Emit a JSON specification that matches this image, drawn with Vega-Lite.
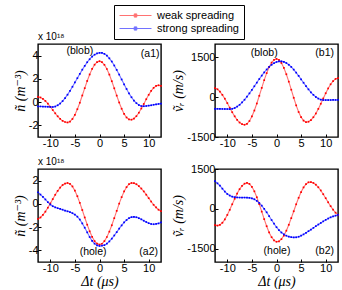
{
"$schema":"https://vega.github.io/schema/vega-lite/v6.json",
"background":"white",
"padding":{"left":12,"top":4,"right":2,"bottom":0},
"bounds":"flush",
"columns":2,
"spacing":{"row":32,"column":54},
"resolve":{"scale":{"color":"shared"}},
"config":{
 "locale":{"number":{"decimal":".","thousands":",","grouping":[3],"currency":["$",""],"minus":"-"}},
 "view":{"stroke":"black","strokeWidth":1.4},
 "axis":{"grid":false,"domain":false,"labelFont":"Liberation Sans","labelFontSize":11,"labelColor":"black","labelOverlap":false,"labelFlush":false,"tickColor":"black","tickSize":-3,"labelPadding":3,"titlePadding":1,"titleFont":"Liberation Serif, DejaVu Serif","titleFontStyle":"italic","titleFontWeight":"normal","titleFontSize":14,"titleColor":"black"},
 "title":{"font":"Liberation Sans","fontSize":10,"fontWeight":"normal","anchor":"start","offset":2,"color":"black","frame":"group"},
 "text":{"font":"Liberation Sans","fontSize":10.5,"color":"black"}
},
"datasets":{
"d":[
{"t":-12.5,"s":"weak spreading","a1":0.45,"b1":342,"a2":-1.30,"b2":-610},
{"t":-12,"s":"weak spreading","a1":0.40,"b1":296,"a2":-1.17,"b2":-630},
{"t":-11.5,"s":"weak spreading","a1":0.28,"b1":210,"a2":-0.95,"b2":-603},
{"t":-11,"s":"weak spreading","a1":0.10,"b1":87,"a2":-0.67,"b2":-523},
{"t":-10.5,"s":"weak spreading","a1":-0.13,"b1":-59,"a2":-0.33,"b2":-396},
{"t":-10,"s":"weak spreading","a1":-0.40,"b1":-224,"a2":0.04,"b2":-229},
{"t":-9.5,"s":"weak spreading","a1":-0.68,"b1":-398,"a2":0.41,"b2":-36},
{"t":-9,"s":"weak spreading","a1":-0.96,"b1":-567,"a2":0.78,"b2":172},
{"t":-8.5,"s":"weak spreading","a1":-1.22,"b1":-722,"a2":1.12,"b2":381},
{"t":-8,"s":"weak spreading","a1":-1.44,"b1":-854,"a2":1.40,"b2":574},
{"t":-7.5,"s":"weak spreading","a1":-1.61,"b1":-955,"a2":1.62,"b2":741},
{"t":-7,"s":"weak spreading","a1":-1.71,"b1":-1019,"a2":1.75,"b2":868},
{"t":-6.5,"s":"weak spreading","a1":-1.75,"b1":-1040,"a2":1.80,"b2":948},
{"t":-6,"s":"weak spreading","a1":-1.67,"b1":-1004,"a2":1.72,"b2":975},
{"t":-5.5,"s":"weak spreading","a1":-1.45,"b1":-899,"a2":1.50,"b2":939},
{"t":-5,"s":"weak spreading","a1":-1.09,"b1":-728,"a2":1.13,"b2":831},
{"t":-4.5,"s":"weak spreading","a1":-0.61,"b1":-504,"a2":0.66,"b2":660},
{"t":-4,"s":"weak spreading","a1":-0.05,"b1":-239,"a2":0.09,"b2":437},
{"t":-3.5,"s":"weak spreading","a1":0.57,"b1":51,"a2":-0.53,"b2":178},
{"t":-3,"s":"weak spreading","a1":1.20,"b1":349,"a2":-1.17,"b2":-104},
{"t":-2.5,"s":"weak spreading","a1":1.82,"b1":639,"a2":-1.79,"b2":-387},
{"t":-2,"s":"weak spreading","a1":2.38,"b1":904,"a2":-2.36,"b2":-653},
{"t":-1.5,"s":"weak spreading","a1":2.86,"b1":1128,"a2":-2.83,"b2":-886},
{"t":-1,"s":"weak spreading","a1":3.22,"b1":1299,"a2":-3.20,"b2":-1067},
{"t":-0.5,"s":"weak spreading","a1":3.44,"b1":1403,"a2":-3.42,"b2":-1187},
{"t":0,"s":"weak spreading","a1":3.52,"b1":1440,"a2":-3.50,"b2":-1239},
{"t":0.5,"s":"weak spreading","a1":3.44,"b1":1401,"a2":-3.43,"b2":-1220},
{"t":1,"s":"weak spreading","a1":3.21,"b1":1285,"a2":-3.20,"b2":-1141},
{"t":1.5,"s":"weak spreading","a1":2.85,"b1":1102,"a2":-2.85,"b2":-1006},
{"t":2,"s":"weak spreading","a1":2.37,"b1":862,"a2":-2.39,"b2":-822},
{"t":2.5,"s":"weak spreading","a1":1.80,"b1":583,"a2":-1.84,"b2":-599},
{"t":3,"s":"weak spreading","a1":1.19,"b1":281,"a2":-1.23,"b2":-349},
{"t":3.5,"s":"weak spreading","a1":0.56,"b1":-24,"a2":-0.60,"b2":-90},
{"t":4,"s":"weak spreading","a1":-0.03,"b1":-309,"a2":0.02,"b2":172},
{"t":4.5,"s":"weak spreading","a1":-0.57,"b1":-559,"a2":0.58,"b2":416},
{"t":5,"s":"weak spreading","a1":-1.01,"b1":-754,"a2":1.07,"b2":632},
{"t":5.5,"s":"weak spreading","a1":-1.32,"b1":-883,"a2":1.44,"b2":808},
{"t":6,"s":"weak spreading","a1":-1.49,"b1":-939,"a2":1.69,"b2":931},
{"t":6.5,"s":"weak spreading","a1":-1.51,"b1":-925,"a2":1.80,"b2":999},
{"t":7,"s":"weak spreading","a1":-1.41,"b1":-862,"a2":1.78,"b2":1007},
{"t":7.5,"s":"weak spreading","a1":-1.21,"b1":-756,"a2":1.69,"b2":975},
{"t":8,"s":"weak spreading","a1":-0.91,"b1":-615,"a2":1.53,"b2":909},
{"t":8.5,"s":"weak spreading","a1":-0.55,"b1":-442,"a2":1.32,"b2":813},
{"t":9,"s":"weak spreading","a1":-0.16,"b1":-249,"a2":1.07,"b2":692},
{"t":9.5,"s":"weak spreading","a1":0.25,"b1":-50,"a2":0.79,"b2":552},
{"t":10,"s":"weak spreading","a1":0.63,"b1":147,"a2":0.49,"b2":401},
{"t":10.5,"s":"weak spreading","a1":0.97,"b1":328,"a2":0.20,"b2":248},
{"t":11,"s":"weak spreading","a1":1.23,"b1":484,"a2":-0.08,"b2":101},
{"t":11.5,"s":"weak spreading","a1":1.39,"b1":604,"a2":-0.31,"b2":-33},
{"t":12,"s":"weak spreading","a1":1.45,"b1":685,"a2":-0.50,"b2":-144},
{"t":12.5,"s":"weak spreading","a1":1.40,"b1":718,"a2":-0.63,"b2":-229},
{"t":-12.5,"s":"strong spreading","a1":-0.37,"b1":-440,"a2":1.00,"b2":1040},
{"t":-12,"s":"strong spreading","a1":-0.37,"b1":-440,"a2":0.80,"b2":960},
{"t":-11.5,"s":"strong spreading","a1":-0.38,"b1":-442,"a2":0.60,"b2":870},
{"t":-11,"s":"strong spreading","a1":-0.39,"b1":-444,"a2":0.38,"b2":760},
{"t":-10.5,"s":"strong spreading","a1":-0.40,"b1":-446,"a2":0.15,"b2":650},
{"t":-10,"s":"strong spreading","a1":-0.41,"b1":-448,"a2":-0.05,"b2":560},
{"t":-9.5,"s":"strong spreading","a1":-0.42,"b1":-450,"a2":-0.20,"b2":500},
{"t":-9,"s":"strong spreading","a1":-0.38,"b1":-439,"a2":-0.30,"b2":460},
{"t":-8.5,"s":"strong spreading","a1":-0.27,"b1":-409,"a2":-0.37,"b2":440},
{"t":-8,"s":"strong spreading","a1":-0.12,"b1":-356,"a2":-0.43,"b2":430},
{"t":-7.5,"s":"strong spreading","a1":0.09,"b1":-288,"a2":-0.50,"b2":425},
{"t":-7,"s":"strong spreading","a1":0.35,"b1":-200,"a2":-0.58,"b2":425},
{"t":-6.5,"s":"strong spreading","a1":0.64,"b1":-98,"a2":-0.64,"b2":425},
{"t":-6,"s":"strong spreading","a1":0.97,"b1":16,"a2":-0.70,"b2":422},
{"t":-5.5,"s":"strong spreading","a1":1.32,"b1":142,"a2":-0.80,"b2":415},
{"t":-5,"s":"strong spreading","a1":1.69,"b1":273,"a2":-0.93,"b2":395},
{"t":-4.5,"s":"strong spreading","a1":2.06,"b1":409,"a2":-1.10,"b2":360},
{"t":-4,"s":"strong spreading","a1":2.43,"b1":546,"a2":-1.35,"b2":300},
{"t":-3.5,"s":"strong spreading","a1":2.79,"b1":681,"a2":-1.68,"b2":220},
{"t":-3,"s":"strong spreading","a1":3.12,"b1":811,"a2":-2.05,"b2":120},
{"t":-2.5,"s":"strong spreading","a1":3.43,"b1":931,"a2":-2.45,"b2":0},
{"t":-2,"s":"strong spreading","a1":3.69,"b1":1040,"a2":-2.85,"b2":-130},
{"t":-1.5,"s":"strong spreading","a1":3.91,"b1":1138,"a2":-3.18,"b2":-270},
{"t":-1,"s":"strong spreading","a1":4.08,"b1":1218,"a2":-3.42,"b2":-420},
{"t":-0.5,"s":"strong spreading","a1":4.19,"b1":1280,"a2":-3.57,"b2":-560},
{"t":0,"s":"strong spreading","a1":4.24,"b1":1323,"a2":-3.62,"b2":-690},
{"t":0.5,"s":"strong spreading","a1":4.24,"b1":1346,"a2":-3.60,"b2":-800},
{"t":1,"s":"strong spreading","a1":4.15,"b1":1348,"a2":-3.55,"b2":-890},
{"t":1.5,"s":"strong spreading","a1":4.00,"b1":1327,"a2":-3.42,"b2":-960},
{"t":2,"s":"strong spreading","a1":3.77,"b1":1284,"a2":-3.23,"b2":-1010},
{"t":2.5,"s":"strong spreading","a1":3.49,"b1":1219,"a2":-2.99,"b2":-1045},
{"t":3,"s":"strong spreading","a1":3.15,"b1":1137,"a2":-2.72,"b2":-1065},
{"t":3.5,"s":"strong spreading","a1":2.77,"b1":1036,"a2":-2.43,"b2":-1075},
{"t":4,"s":"strong spreading","a1":2.37,"b1":923,"a2":-2.13,"b2":-1070},
{"t":4.5,"s":"strong spreading","a1":1.95,"b1":800,"a2":-1.85,"b2":-1050},
{"t":5,"s":"strong spreading","a1":1.53,"b1":672,"a2":-1.60,"b2":-1010},
{"t":5.5,"s":"strong spreading","a1":1.13,"b1":542,"a2":-1.39,"b2":-960},
{"t":6,"s":"strong spreading","a1":0.75,"b1":415,"a2":-1.23,"b2":-900},
{"t":6.5,"s":"strong spreading","a1":0.42,"b1":293,"a2":-1.14,"b2":-840},
{"t":7,"s":"strong spreading","a1":0.13,"b1":183,"a2":-1.12,"b2":-780},
{"t":7.5,"s":"strong spreading","a1":-0.09,"b1":87,"a2":-1.15,"b2":-715},
{"t":8,"s":"strong spreading","a1":-0.25,"b1":6,"a2":-1.23,"b2":-650},
{"t":8.5,"s":"strong spreading","a1":-0.34,"b1":-54,"a2":-1.33,"b2":-590},
{"t":9,"s":"strong spreading","a1":-0.35,"b1":-94,"a2":-1.45,"b2":-530},
{"t":9.5,"s":"strong spreading","a1":-0.33,"b1":-110,"a2":-1.56,"b2":-470},
{"t":10,"s":"strong spreading","a1":-0.30,"b1":-110,"a2":-1.66,"b2":-415},
{"t":10.5,"s":"strong spreading","a1":-0.27,"b1":-110,"a2":-1.73,"b2":-365},
{"t":11,"s":"strong spreading","a1":-0.23,"b1":-108,"a2":-1.75,"b2":-320},
{"t":11.5,"s":"strong spreading","a1":-0.19,"b1":-107,"a2":-1.73,"b2":-285},
{"t":12,"s":"strong spreading","a1":-0.16,"b1":-106,"a2":-1.68,"b2":-255},
{"t":12.5,"s":"strong spreading","a1":-0.13,"b1":-105,"a2":-1.60,"b2":-230}
],
"ann":[
{"p":"a1","t":-4,"a1":4.4,"label":"(blob)"},
{"p":"a1","t":10.3,"a1":4.1,"label":"(a1)"},
{"p":"b1","t":-2.5,"b1":1660,"label":"(blob)"},
{"p":"b1","t":9.8,"b1":1660,"label":"(b1)"},
{"p":"a2","t":-1.3,"a2":-4.15,"label":"(hole)"},
{"p":"a2","t":10,"a2":-4.15,"label":"(a2)"},
{"p":"b2","t":0.1,"b2":-1580,"label":"(hole)"},
{"p":"b2","t":9.8,"b2":-1600,"label":"(b2)"}
]
},
"concat":[
{"width":123,"height":93,"title":{"text":"x 10¹⁸"},
 "encoding":{"x":{"field":"t","type":"quantitative","scale":{"domain":[-12.5,12.5],"nice":false},"axis":{"values":[-10,-5,0,5,10],"title":null,"labelOverlap":false}},
  "y":{"field":"a1","type":"quantitative","scale":{"domain":[-3,5],"nice":false},"axis":{"values":[-2,0,2,4],"title":"ñ (m⁻³)","labelOverlap":false}}},
 "layer":[
  {"data":{"name":"d"},"mark":{"type":"line","strokeWidth":1.1,"opacity":0.55},
   "encoding":{"color":{"field":"s","type":"nominal","scale":{"domain":["weak spreading","strong spreading"],"range":["#ff0000","#0000ff"]},"legend":{"title":null,"orient":"none","legendX":76,"legendY":-39,"symbolType":"M-1,0H1M-0.08,-0.1h0.16v0.2h-0.16Z","symbolSize":1024,"symbolStrokeWidth":1,"clipHeight":11,"labelFont":"Liberation Sans","labelFontSize":11,"labelColor":"black","strokeColor":"black","fillColor":"white","padding":5,"rowPadding":1,"labelOffset":5}}}},
  {"data":{"name":"d"},"mark":{"type":"point","filled":true,"shape":"square","size":3,"opacity":1},
   "encoding":{"color":{"field":"s","type":"nominal"}}},
  {"data":{"name":"ann"},"transform":[{"filter":"datum.p==='a1'"}],"mark":{"type":"text"},
   "encoding":{"text":{"field":"label"}}}
 ]},
{"width":123,"height":93,
 "encoding":{"x":{"field":"t","type":"quantitative","scale":{"domain":[-12.5,12.5],"nice":false},"axis":{"values":[-10,-5,0,5,10],"title":null,"labelOverlap":false}},
  "y":{"field":"b1","type":"quantitative","scale":{"domain":[-1500,2000],"nice":false},"axis":{"values":[-1500,0,1500],"format":"d","title":"ṽᵣ (m/s)","labelOverlap":false}}},
 "layer":[
  {"data":{"name":"d"},"mark":{"type":"line","strokeWidth":1.1,"opacity":0.55},
   "encoding":{"color":{"field":"s","type":"nominal"}}},
  {"data":{"name":"d"},"mark":{"type":"point","filled":true,"shape":"square","size":3,"opacity":1},
   "encoding":{"color":{"field":"s","type":"nominal"}}},
  {"data":{"name":"ann"},"transform":[{"filter":"datum.p==='b1'"}],"mark":{"type":"text"},
   "encoding":{"text":{"field":"label"}}}
 ]},
{"width":123,"height":93,"title":{"text":"x 10¹⁸"},
 "encoding":{"x":{"field":"t","type":"quantitative","scale":{"domain":[-12.5,12.5],"nice":false},"axis":{"values":[-10,-5,0,5,10],"title":"Δt (μs)","labelOverlap":false}},
  "y":{"field":"a2","type":"quantitative","scale":{"domain":[-5,3],"nice":false},"axis":{"values":[-4,-2,0,2],"title":"ñ (m⁻³)","labelOverlap":false}}},
 "layer":[
  {"data":{"name":"d"},"mark":{"type":"line","strokeWidth":1.1,"opacity":0.55},
   "encoding":{"color":{"field":"s","type":"nominal"}}},
  {"data":{"name":"d"},"mark":{"type":"point","filled":true,"shape":"square","size":3,"opacity":1},
   "encoding":{"color":{"field":"s","type":"nominal"}}},
  {"data":{"name":"ann"},"transform":[{"filter":"datum.p==='a2'"}],"mark":{"type":"text"},
   "encoding":{"text":{"field":"label"}}}
 ]},
{"width":123,"height":93,
 "encoding":{"x":{"field":"t","type":"quantitative","scale":{"domain":[-12.5,12.5],"nice":false},"axis":{"values":[-10,-5,0,5,10],"title":"Δt (μs)","labelOverlap":false}},
  "y":{"field":"b2","type":"quantitative","scale":{"domain":[-2000,1500],"nice":false},"axis":{"values":[-1500,0,1500],"format":"d","title":"ṽᵣ (m/s)","labelOverlap":false}}},
 "layer":[
  {"data":{"name":"d"},"mark":{"type":"line","strokeWidth":1.1,"opacity":0.55},
   "encoding":{"color":{"field":"s","type":"nominal"}}},
  {"data":{"name":"d"},"mark":{"type":"point","filled":true,"shape":"square","size":3,"opacity":1},
   "encoding":{"color":{"field":"s","type":"nominal"}}},
  {"data":{"name":"ann"},"transform":[{"filter":"datum.p==='b2'"}],"mark":{"type":"text"},
   "encoding":{"text":{"field":"label"}}}
 ]}
]
}
